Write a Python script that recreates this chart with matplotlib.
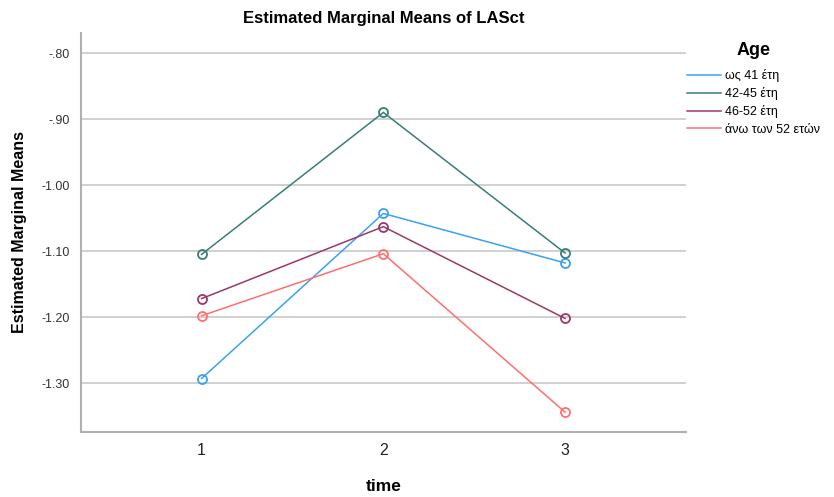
import matplotlib.pyplot as plt
from matplotlib.lines import Line2D

plt.rcParams['font.family'] = ['Liberation Sans', 'DejaVu Sans']

time = [1, 2, 3]
groups = ["ως 41 έτη", "42-45 έτη", "46-52 έτη", "άνω των 52 ετών"]
means = [
    [-1.293, -1.043, -1.118],
    [-1.105, -0.890, -1.103],
    [-1.172, -1.063, -1.202],
    [-1.198, -1.104, -1.344],
]
colors = ["#3aa3ef", "#3a7d78", "#9b3868", "#ff6f6f"]
yticks = [-0.80, -0.90, -1.00, -1.10, -1.20, -1.30]
ytick_labels = ["-.80", "-.90", "-1.00", "-1.10", "-1.20", "-1.30"]

fig = plt.figure(figsize=(8.34, 4.97), dpi=100)
ax = fig.add_axes([0.0968, 0.1308, 0.7257, 0.8028])

for g, vals, c in zip(groups, means, colors):
    ax.plot(time, vals, color=c, linewidth=1.1, marker='o', markersize=6.5,
            markerfacecolor='none', markeredgewidth=1.3, label=g, zorder=3)

ax.set_xlim(0.335, 3.665)
ax.set_ylim(-1.374, -0.7697)
ax.set_xticks(time)
ax.set_xticklabels([str(t) for t in time], fontsize=11.5, color='#222222')
ax.set_yticks(yticks)
ax.set_yticklabels(ytick_labels, fontsize=9, color='#333333')
ax.tick_params(length=0, pad=8)
ax.tick_params(axis='x', pad=8)

ax.grid(axis='y', color='#c8c8c8', linewidth=1.2, zorder=0)
for s in ['top', 'right']:
    ax.spines[s].set_visible(False)
for s in ['left', 'bottom']:
    ax.spines[s].set_color('#b0b0b0')
    ax.spines[s].set_linewidth(1.5)

ax.set_title("Estimated Marginal Means of LASct", fontsize=12, fontweight='bold', pad=7)
ax.set_xlabel("time", fontsize=12.5, fontweight='bold', labelpad=15)
ax.set_ylabel("Estimated Marginal Means", fontsize=11.5, fontweight='bold',
              labelpad=10)

handles = [Line2D([0], [0], color=c, linewidth=1.1) for c in colors]
leg = fig.legend(handles, groups, loc='upper left', bbox_to_anchor=(0.824, 0.915),
                 frameon=False, title="Age", fontsize=9, handlelength=2.7,
                 handletextpad=0.3, labelspacing=0.42, borderaxespad=0,
                 borderpad=0)
leg.get_title().set_fontweight('bold')
leg.get_title().set_fontsize(13)
leg._legend_box.sep = 7

fig.savefig("out.png", dpi=100)
